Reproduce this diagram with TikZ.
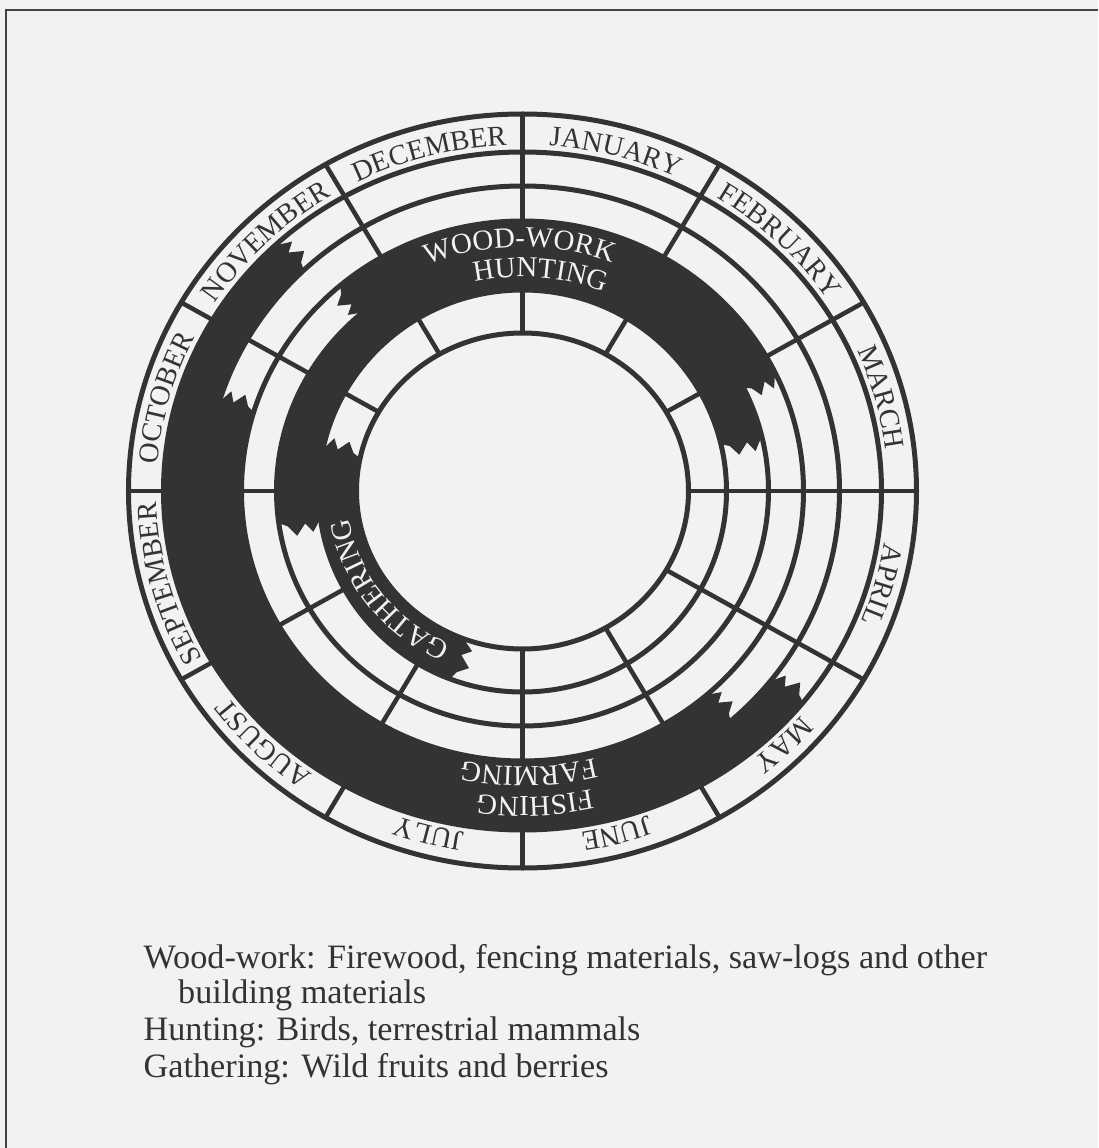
\documentclass[tikz,border=0pt]{standalone}
\usepackage{fontspec}
\setmainfont{Liberation Serif}
\usetikzlibrary{decorations.text}
\definecolor{dk}{HTML}{333333}
\definecolor{bg}{HTML}{F2F2F2}
\definecolor{frame}{HTML}{444444}
\newcommand\mfont{\fontsize{28.5}{30}\selectfont}
\newcommand\ifont{\fontsize{29}{31}\selectfont}
\newcommand\lfont{\fontsize{34.2}{36}\selectfont}
% #1 centre angle, #2 half span, #3 rx, #4 ry, #5 colour, #6 font, #7 text
\newcommand\curvetext[7]{%
  \path[decorate,decoration={text along path,text={|#6|#7},text align=center,text color=#5}]
    ({#1+#2}:#3 and #4) arc[start angle={#1+#2}, end angle={#1-#2}, x radius=#3, y radius=#4];}
\tikzset{
  ringline/.style={draw=dk, line width=5},
  radline/.style={draw=dk, line width=4.5},
  jag/.style n args={6}{insert path={
    -- ({#1}:{#3} and {#4})
    -- ({#1+(#2)}:{#3+0.22*(#5-#3)} and {#4+0.22*(#6-#4)})
    -- ({#1+0.25*(#2)}:{#3+0.38*(#5-#3)} and {#4+0.38*(#6-#4)})
    -- ({#1+1.1*(#2)}:{#3+0.62*(#5-#3)} and {#4+0.62*(#6-#4)})
    -- ({#1+0.3*(#2)}:{#3+0.8*(#5-#3)} and {#4+0.8*(#6-#4)})
    -- ({#1}:{#5} and {#6})}},
  legend/.style={anchor=base west, inner sep=0pt, text=dk, font=\lfont}
}
\begin{document}
\begin{tikzpicture}[x=1pt,y=1pt]
\fill[bg] (-522.5,-657) rectangle (575.5,491);
\useasboundingbox (-522.5,-657) rectangle (575.5,491);
% frame (left and top edges)
\draw[frame, line width=2.5] (-516.5,-657) -- (-516.5,481) -- (575.5,481);

% radial month dividers
\foreach \a in {0,30,...,330}
  \draw[radline] (\a:166 and 158) -- (\a:394 and 377);
% rings
\foreach \rx/\ry in {166/158,204/201,246/235,281/270,317/305,359/339,394/377}
  \draw[ringline] (0,0) ellipse[x radius=\rx, y radius=\ry];

% dark activity bands
% outer band E (between 317/305 and 359/339)
\fill[dk] (133.6:317 and 305) arc[start angle=133.6, end angle=321.4, x radius=317, y radius=305]
  [jag={321.4}{2.4}{317}{305}{359}{339}]
  arc[start angle=321.4, end angle=133.6, x radius=359, y radius=339]
  [jag={133.6}{-2.4}{359}{339}{317}{305}] -- cycle;
% band D (between 281/270 and 317/305)
\fill[dk] (163:281 and 270) arc[start angle=163, end angle=311, x radius=281, y radius=270]
  [jag={311}{2.6}{281}{270}{317}{305}]
  arc[start angle=311, end angle=163, x radius=317, y radius=305]
  [jag={163}{-2.6}{317}{305}{281}{270}] -- cycle;
% band C (between 246/235 and 281/270)
\fill[dk] (26:246 and 235) arc[start angle=26, end angle=130.5, x radius=246, y radius=235]
  [jag={130.5}{3}{246}{235}{281}{270}]
  arc[start angle=130.5, end angle=26, x radius=281, y radius=270]
  [jag={26}{-3}{281}{270}{246}{235}] -- cycle;
% band B (between 204/201 and 246/235)
\fill[dk] (13.5:204 and 201) arc[start angle=13.5, end angle=187.9, x radius=204, y radius=201]
  [jag={187.9}{3.4}{204}{201}{246}{235}]
  arc[start angle=187.9, end angle=13.5, x radius=246, y radius=235]
  [jag={13.5}{-3.4}{246}{235}{204}{201}] -- cycle;
% band A (between 166/158 and 204/201)
\fill[dk] (168:166 and 158) arc[start angle=168, end angle=249.2, x radius=166, y radius=158]
  [jag={249.2}{4}{166}{158}{204}{201}]
  arc[start angle=249.2, end angle=168, x radius=204, y radius=201]
  [jag={168}{-4}{204}{201}{166}{158}] -- cycle;

% month names
\curvetext{75}{45}{366}{346}{dk}{\mfont}{JANUARY}
\curvetext{45}{45}{366}{346}{dk}{\mfont}{FEBRUARY}
\curvetext{15}{45}{366}{346}{dk}{\mfont}{MARCH}
\curvetext{-15}{45}{366}{346}{dk}{\mfont}{APRIL}
\curvetext{-45}{45}{366}{346}{dk}{\mfont}{MAY}
\curvetext{-75}{45}{366}{346}{dk}{\mfont}{JUNE}
\curvetext{-105}{45}{366}{346}{dk}{\mfont}{JULY}
\curvetext{-135}{45}{366}{346}{dk}{\mfont}{AUGUST}
\curvetext{-165}{45}{366}{346}{dk}{\mfont}{SEPTEMBER}
\curvetext{165}{45}{366}{346}{dk}{\mfont}{OCTOBER}
\curvetext{135}{45}{366}{346}{dk}{\mfont}{NOVEMBER}
\curvetext{105}{45}{366}{346}{dk}{\mfont}{DECEMBER}

% activity names
\curvetext{90.7}{50}{255}{244}{bg}{\ifont}{WOOD-WORK}
\curvetext{85.3}{50}{224}{214}{bg}{\ifont}{HUNTING}
\curvetext{271.2}{50}{289}{276}{bg}{\ifont}{FARMING}
\curvetext{272.2}{50}{320}{306}{bg}{\ifont}{FISHING}
\curvetext{217}{50}{176}{168}{bg}{\ifont}{GATHERING}

% legend
\node[legend] (l1) at (-379,-477) {Wood-work: Firewood, fencing materials, saw-logs and other};
\node[legend] (l2) at (-344.5,-512) {building materials};
\node[legend] (l3) at (-379,-549) {Hunting: Birds, terrestrial mammals};
\node[legend] (l4) at (-379,-586) {Gathering: Wild fruits and berries};
\end{tikzpicture}
\end{document}
